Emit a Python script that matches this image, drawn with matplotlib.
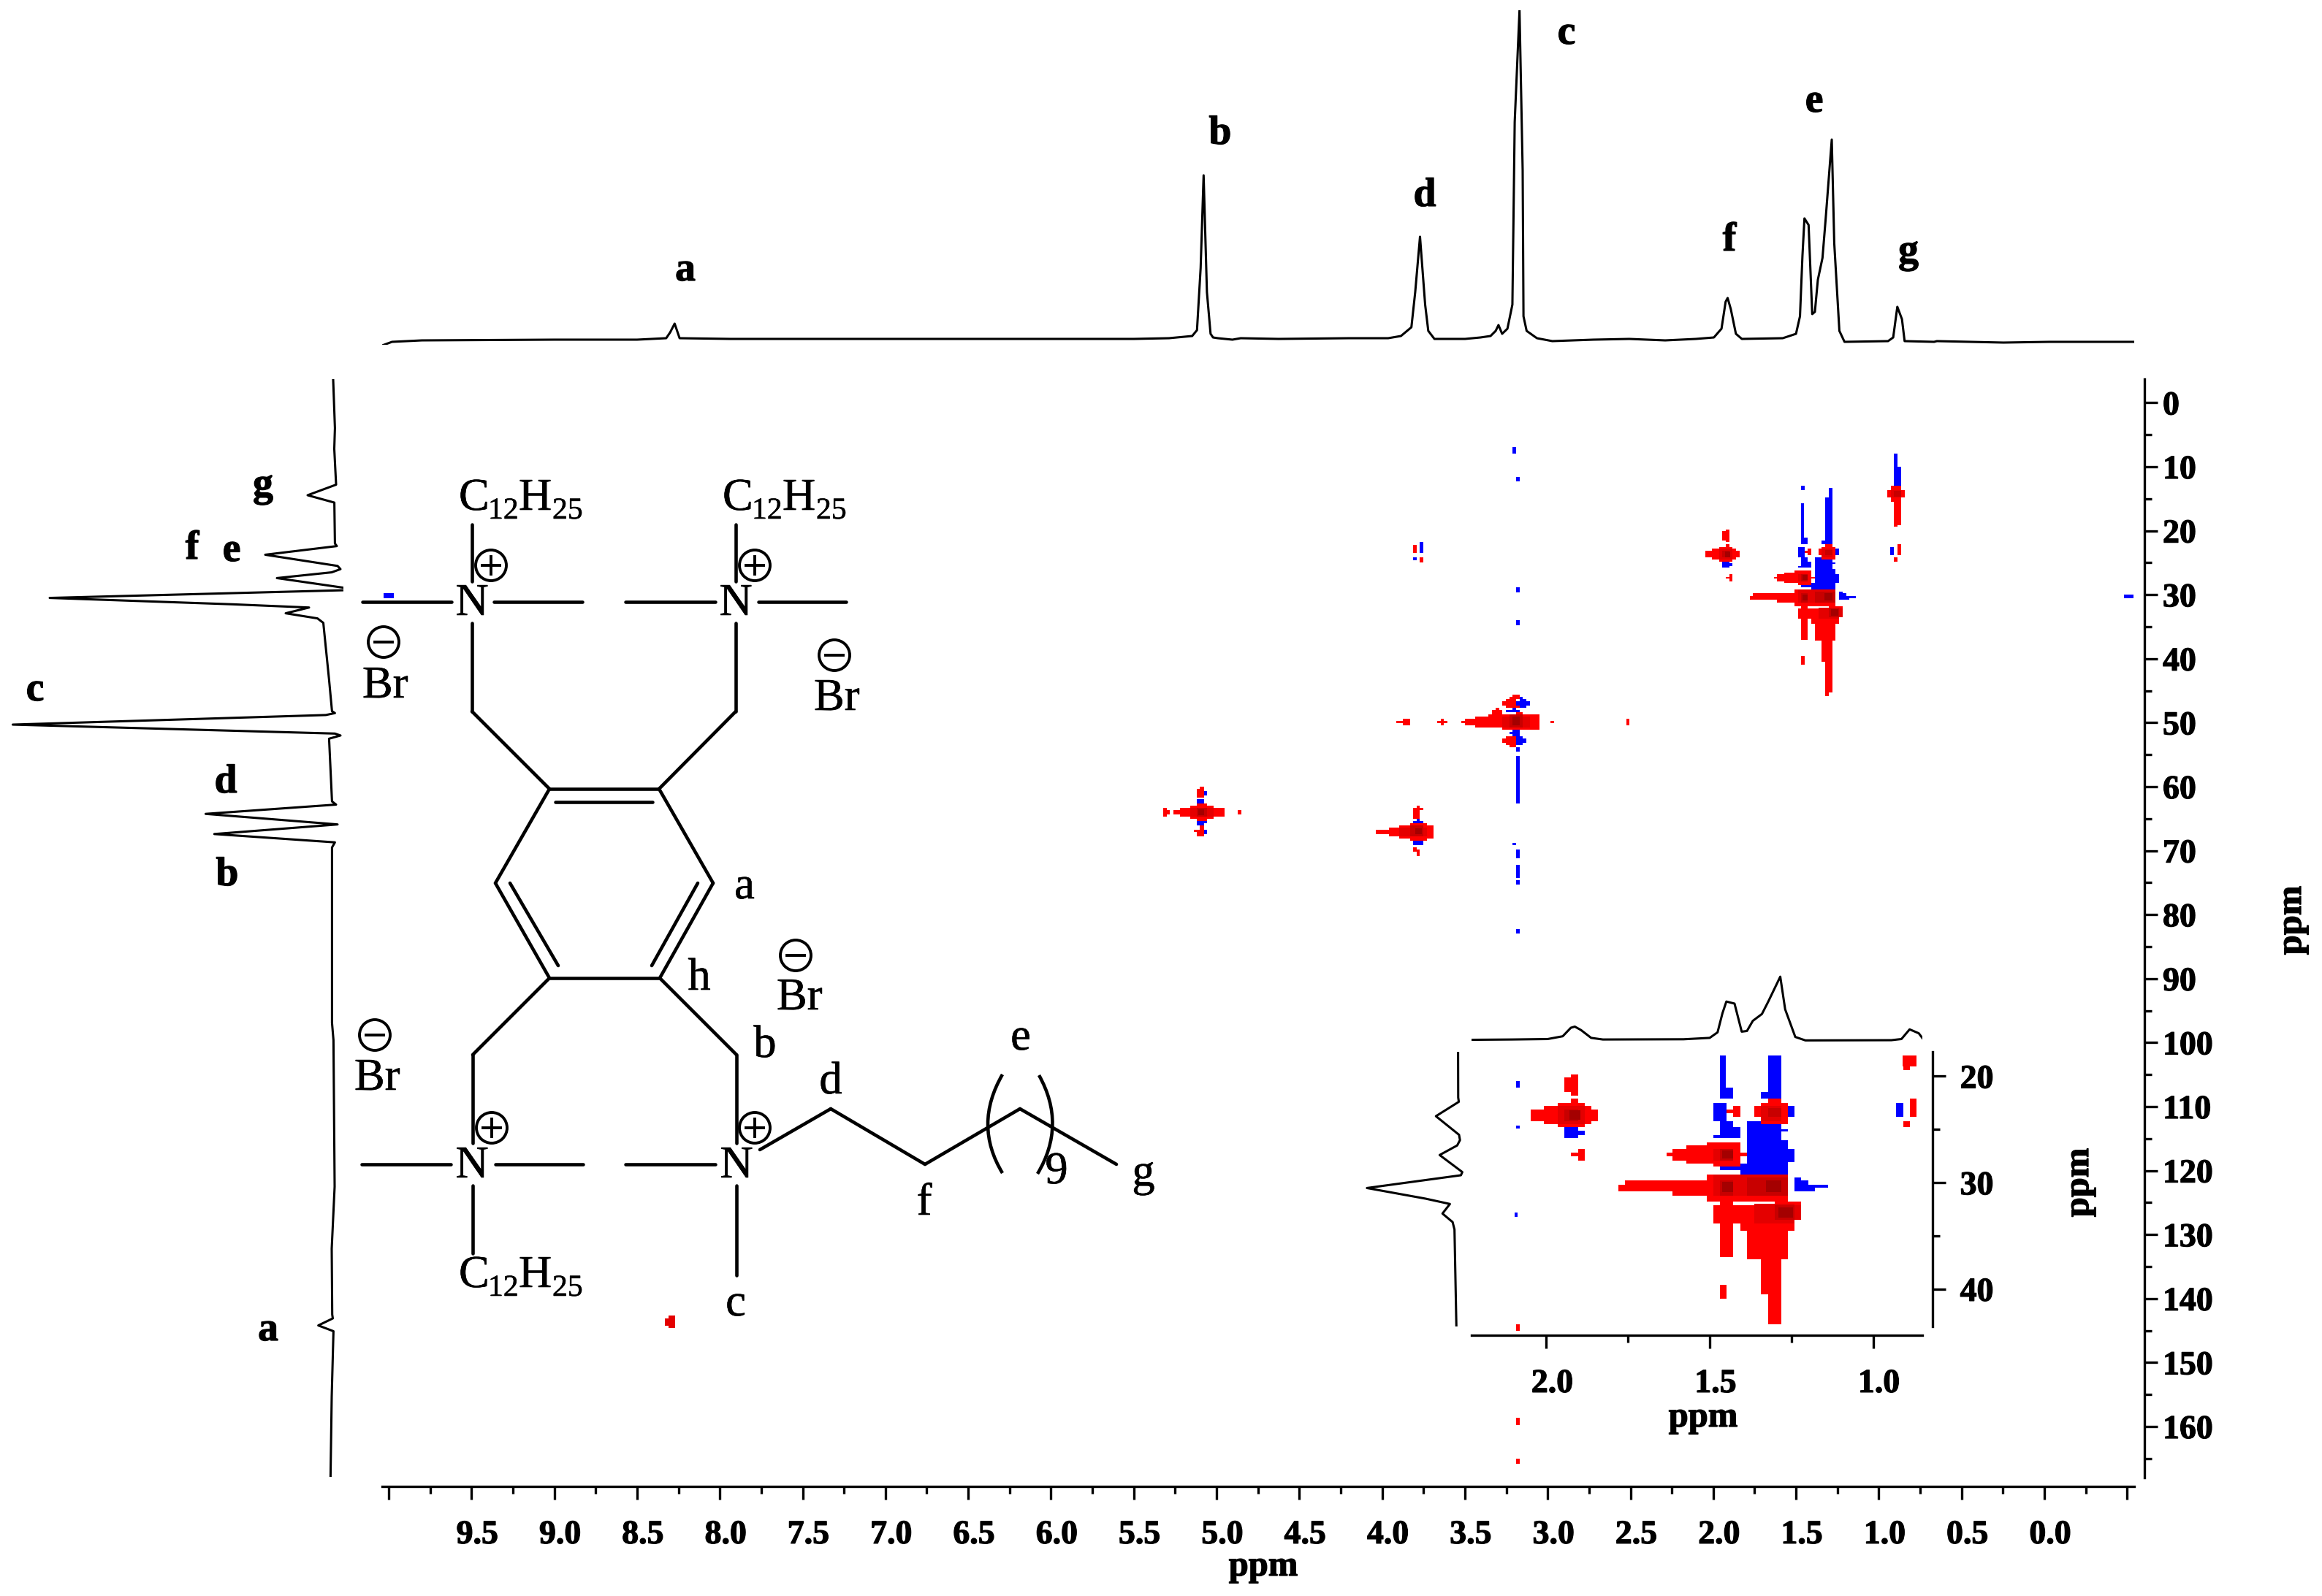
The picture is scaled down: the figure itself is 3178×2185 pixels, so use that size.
import matplotlib
matplotlib.use("Agg")
import matplotlib.pyplot as plt
import matplotlib.patheffects as pe
from matplotlib.patches import Rectangle, Circle, PathPatch
from matplotlib.path import Path
from matplotlib.transforms import ScaledTranslation
from matplotlib.ticker import FixedLocator, FixedFormatter

plt.rcParams['font.family'] = ['Liberation Serif', 'DejaVu Serif']

W, H = 3178, 2185

# --- 1D projections (ppm, intensity) ---
top_ppm = [10.04, 9.98, 9.8, 9.0, 8.5, 8.324, 8.30, 8.273, 8.255, 8.243, 7.935, 7.0, 6.0, 5.5, 5.287, 5.147, 5.118,
           5.096, 5.078, 5.058, 5.036, 5.021, 4.992, 4.904, 4.854, 4.625, 4.2, 3.963, 3.886, 3.823, 3.80, 3.771,
           3.740, 3.721, 3.684, 3.499, 3.406,
           3.345, 3.314, 3.297, 3.275, 3.243, 3.213, 3.199, 3.170, 3.151, 3.146, 3.127, 3.065, 2.972, 2.724, 2.507,
           2.29, 2.105, 1.996, 1.95, 1.925, 1.913, 1.894, 1.863, 1.827, 1.58, 1.50, 1.476, 1.461, 1.449, 1.424, 1.402,
           1.386, 1.368, 1.34, 1.321, 1.284, 1.269, 1.238, 1.207, 0.944, 0.913, 0.888, 0.860, 0.844, 0.666, 0.649,
           0.247, -0.03, -0.543]
top_int = [-3, 2, 4, 5, 5, 7, 15, 27, 15, 7, 6, 6, 6, 6, 7, 10, 18,
           103, 230, 70, 13, 8, 7, 5, 7, 6, 7, 7, 10, 22, 70, 146,
           53, 17, 6, 6, 8,
           10, 17, 25, 13, 20, 53, 303, 456, 237, 37, 17, 7, 3, 5, 6,
           4, 6, 8, 20, 57, 62, 47, 13, 6, 7, 13, 37, 120, 171, 162, 40,
           43, 87, 117, 170, 279, 137, 17, 2, 3, 8, 50, 33, 3, 2, 3,
           1, 2, 2]

left_c13 = [-3.6, 3.96, 7.2, 12.8, 14.45, 15.6, 22.0, 22.4, 23.75, 25.5, 26.0, 26.5, 27.4, 29.0, 29.3, 30.5, 31.5,
            32.0, 32.9, 33.7, 34.4, 43.3, 48.2, 48.5, 48.8, 50.3, 51.7, 52.0, 52.5, 62.3, 62.8, 64.25, 65.9, 67.4,
            68.7, 69.5, 96.9, 99.6, 122.5, 132.2, 142.5, 143.1, 144.2, 145.1, 155.3, 167.7]
left_int = [0, -2.4, -1.5, -4, 35, -1.6, -2.4, -5, 93, -6, -10, 2, 77, -20, -14, 388, 137,
            33, 65, 21.5, 13.5, 5.6, 1.6, -2.4, 10, 438.6, -2.4, -10, 5.6, 1.6, -4, 174.6, -6, 162.7,
            -2.4, 1.6, 1.6, -0.4, -2, 2, 1.3, 0.5, 20.4, -0.4, 2, 3.6]

# --- cross peaks (ppm high, ppm low, 13C low, 13C high) ---
blue_alkyl = [
    (1.468, 1.448, 13.0, 13.7), (1.468, 1.450, 15.7, 21.8), (1.468, 1.428, 21.1, 22.1), (1.488, 1.448, 22.5, 24.2),
    (1.468, 1.428, 24.2, 25.5), (1.488, 1.407, 25.5, 25.8), (1.448, 1.407, 24.8, 25.8), (1.468, 1.407, 28.5, 28.8),
    (1.302, 1.281, 13.3, 14.8), (1.322, 1.281, 14.8, 22.1), (1.344, 1.281, 21.5, 22.1), (1.260, 1.240, 22.8, 23.8),
    (1.385, 1.281, 24.2, 29.2), (1.281, 1.260, 25.0, 25.2), (1.281, 1.260, 26.0, 29.2), (1.260, 1.240, 26.8, 28.1),
    (1.407, 1.260, 28.2, 29.2), (1.240, 1.220, 29.5, 30.8), (1.220, 1.198, 29.8, 30.8), (1.198, 1.178, 30.2, 30.8),
    (1.178, 1.137, 30.2, 30.5), (1.944, 1.903, 24.8, 25.8), (1.903, 1.883, 25.1, 25.5), (0.929, 0.907, 22.5, 23.8),
    (0.910, 0.887, 7.9, 9.95), (0.910, 0.866, 9.95, 13.2),
]
red0_alkyl = [
    (1.944, 1.903, 20.1, 21.5), (1.924, 1.903, 19.8, 21.8), (1.924, 1.903, 22.1, 24.8), (2.007, 1.862, 22.8, 24.5),
    (1.966, 1.883, 22.5, 24.8), (2.049, 1.842, 23.1, 24.2), (1.903, 1.883, 26.8, 27.9), (1.924, 1.903, 27.2, 27.5),
    (0.950, 0.845, 13.6, 14.85), (0.928, 0.866, 13.0, 15.5), (0.910, 0.866, 15.5, 19.1), (0.907, 0.887, 19.1, 19.4),
    (0.887, 0.866, 22.1, 23.8), (0.907, 0.887, 24.2, 24.8), (1.448, 1.428, 23.1, 23.5), (1.428, 1.407, 22.8, 23.8),
    (1.364, 1.260, 22.8, 23.8), (1.344, 1.260, 22.5, 24.5), (1.322, 1.281, 22.1, 24.5),
    (1.633, 1.613, 27.2, 27.5), (1.613, 1.407, 26.8, 27.9), (1.572, 1.407, 26.5, 28.2), (1.509, 1.407, 26.2, 27.9),
    (1.488, 1.407, 26.2, 28.5), (1.407, 1.385, 27.2, 27.5),
    (1.779, 1.260, 30.2, 30.8), (1.759, 1.260, 29.8, 30.8), (1.613, 1.260, 29.8, 31.2), (1.509, 1.260, 29.2, 31.8),
    (1.488, 1.407, 32.1, 33.8), (1.407, 1.240, 32.1, 34.5), (1.302, 1.220, 31.8, 33.5),
    (1.468, 1.428, 31.8, 37.0), (1.385, 1.260, 32.1, 37.2), (1.344, 1.281, 37.2, 40.5), (1.322, 1.281, 40.5, 45.3),
    (1.322, 1.302, 45.3, 45.9), (1.468, 1.448, 39.6, 40.9),
]
red1_alkyl = [(1.966, 1.883, 22.8, 24.5), (1.488, 1.428, 26.8, 27.9), (1.488, 1.260, 29.2, 31.2),
              (1.364, 1.240, 32.0, 33.8), (1.302, 1.220, 32.1, 33.5), (1.344, 1.281, 22.8, 24.2),
              (0.928, 0.866, 13.6, 14.85)]
red2_alkyl = [(1.944, 1.903, 23.1, 24.2), (1.468, 1.428, 26.8, 27.9), (1.468, 1.428, 29.8, 31.2),
              (1.385, 1.260, 29.5, 31.2), (1.302, 1.240, 32.1, 33.5), (1.322, 1.281, 23.0, 23.8),
              (0.910, 0.866, 13.8, 14.7)]
red3_alkyl = [(1.930, 1.897, 23.2, 24.1), (1.462, 1.428, 26.95, 27.7), (1.462, 1.428, 29.95, 30.9),
              (1.328, 1.281, 29.75, 30.9), (1.290, 1.246, 32.3, 33.3)]

blue_main = [
    (5.120, 5.077, 61.97, 62.62), (5.120, 5.057, 65.36, 65.7), (5.120, 5.077, 65.7, 66.05),
    (5.077, 5.057, 60.64, 61.33), (5.077, 5.057, 66.73, 67.42),
    (3.812, 3.751, 65.36, 65.7), (3.791, 3.771, 65.06, 65.36), (3.812, 3.751, 68.44, 69.13),
    (3.251, 3.170, 48.05, 48.39), (3.211, 3.190, 47.7, 48.05), (3.190, 3.107, 46.64, 47.32), (3.170, 3.127, 46.34, 47.67),
    (3.170, 3.150, 45.99, 47.67), (3.211, 3.170, 51.09, 52.12), (3.231, 3.211, 51.43, 51.78), (3.190, 3.127, 52.46, 53.15),
    (3.190, 3.150, 52.12, 53.49), (3.190, 3.170, 53.83, 54.52), (3.190, 3.170, 55.2, 62.62), (3.211, 3.190, 68.78, 69.13),
    (3.190, 3.170, 69.81, 71.18), (3.190, 3.170, 72.21, 74.23), (3.190, 3.170, 74.57, 75.25),
    (3.211, 3.190, 6.9, 7.9), (3.190, 3.169, 11.6, 12.3), (3.190, 3.170, 28.8, 29.6), (3.190, 3.170, 34.0, 34.8),
    (3.190, 3.170, 82.3, 83.0), (3.190, 3.170, 106.0, 107.0), (3.190, 3.170, 113.0, 113.4), (3.200, 3.180, 126.6, 127.2),
    (-0.48, -0.54, 30.0, 30.6), (10.03, 9.97, 29.8, 30.6),
    (3.771, 3.749, 21.8, 23.5), (3.813, 3.790, 24.2, 24.6),
]
red0_main = [
    (5.262, 4.951, 63.69, 64.33), (5.221, 4.951, 63.34, 64.68), (5.161, 5.016, 63.0, 65.06), (5.120, 5.057, 62.62, 65.36),
    (5.323, 5.302, 63.34, 64.68), (5.302, 5.282, 63.69, 64.33), (4.872, 4.850, 63.69, 64.33), (5.100, 5.077, 59.96, 60.34),
    (5.120, 5.077, 60.34, 61.67), (5.138, 5.077, 66.73, 67.07), (5.120, 5.077, 67.07, 67.76), (5.100, 5.077, 66.05, 66.73),
    (4.039, 3.688, 66.73, 67.42), (3.958, 3.688, 66.39, 67.76), (3.895, 3.688, 66.05, 68.1), (3.832, 3.728, 65.7, 68.44),
    (3.812, 3.771, 63.31, 65.06), (3.791, 3.751, 63.31, 63.65), (3.791, 3.771, 63.0, 63.31), (3.812, 3.791, 69.47, 70.16),
    (3.791, 3.771, 69.81, 70.84),
    (3.521, 3.048, 49.76, 50.06), (3.499, 3.048, 49.42, 50.37), (3.438, 3.048, 49.07, 50.75), (3.357, 3.274, 48.73, 50.75),
    (3.274, 3.048, 48.73, 51.09), (3.337, 3.274, 48.05, 49.07), (3.314, 3.294, 47.7, 48.05), (3.190, 3.150, 48.39, 48.73),
    (3.211, 3.170, 45.65, 45.99), (3.231, 3.170, 45.99, 46.34), (3.251, 3.190, 46.34, 46.64), (3.274, 3.190, 46.64, 47.32),
    (3.251, 3.170, 47.32, 47.67), (3.274, 3.190, 52.46, 53.15), (3.251, 3.190, 52.12, 53.49), (3.231, 3.190, 53.49, 53.83),
    (3.915, 3.832, 49.76, 50.06), (3.875, 3.832, 49.42, 50.37), (3.668, 3.607, 49.76, 50.06), (3.647, 3.627, 49.42, 50.37),
    (2.983, 2.963, 49.76, 50.06), (2.526, 2.506, 49.42, 50.44),
    (3.190, 3.170, 144.0, 145.0), (3.190, 3.170, 158.6, 159.8), (3.190, 3.170, 165.0, 165.8),
    (3.813, 3.790, 22.2, 23.5), (3.771, 3.749, 24.2, 25.0),
]
red1_main = [(5.161, 5.016, 63.34, 64.68), (3.895, 3.728, 66.39, 67.76), (3.274, 3.107, 49.07, 50.75),
             (8.33, 8.31, 143.1, 144.3), (8.31, 8.27, 142.7, 144.6)]
red2_main = [(5.120, 5.057, 63.34, 64.68), (3.832, 3.751, 66.05, 67.76), (3.231, 3.150, 48.73, 50.75)]
red3_main = [(5.110, 5.077, 63.5, 64.4), (3.80, 3.76, 66.5, 67.4), (3.211, 3.170, 49.07, 50.37)]

x_major = [10.0 - 0.5 * i for i in range(22)]
x_labels = ['' if i == 0 or v < 0 else f'{v:.1f}' for i, v in enumerate(x_major)]
x_minor = [9.75 - 0.5 * i for i in range(21)]
y_major = list(range(0, 170, 10))
y_minor = list(range(5, 170, 10))
inset_xmajor = [2.0, 1.5, 1.0]
inset_xminor = [1.75, 1.25]
inset_ymajor = [20, 30, 40]
inset_yminor = [25, 35]

RED_LEVELS = ['#ff0000', '#e40000', '#c80000', '#a40000']
BLUE = '#0000ff'
HEAVY = [pe.withStroke(linewidth=0.9, foreground='black')]
LIGHT = [pe.withStroke(linewidth=0.4, foreground='black')]


def px_axes(fig, l, t, r, b):
    ax = fig.add_axes([l / W, 1 - b / H, (r - l) / W, (b - t) / H])
    ax.patch.set_alpha(0)
    return ax


def draw_blocks(ax, blocks, colour, clip=None):
    for a, b, c0, c1 in blocks:
        rect = Rectangle((b, c0), a - b, c1 - c0, facecolor=colour, edgecolor='none', antialiased=False)
        ax.add_patch(rect)
        if clip is not None:
            rect.set_clip_path(clip)


fig = plt.figure(figsize=(W / 100, H / 100), dpi=100, facecolor='white')
LW = 2.4
TR = 2.2
FS_TICK = 33

# ------------------- main 2D axes -------------------
ppm_at = lambda px: (2798 - px) / 226.6
c_at = lambda py: (py - 551.4) / 8.76
ax = px_axes(fig, 523, 519, 2921, 2023)
ax.set_xlim(ppm_at(523), ppm_at(2921))
ax.set_ylim(c_at(2023), c_at(519))
for s in ('top', 'left'):
    ax.spines[s].set_visible(False)
for s, off in (('bottom', 12), ('right', 14)):
    ax.spines[s].set_position(('outward', off * 0.72))
    ax.spines[s].set_linewidth(LW)
draw_blocks(ax, blue_alkyl + blue_main, BLUE)
for i, (lst_a, lst_m) in enumerate(((red0_alkyl, red0_main), (red1_alkyl, red1_main),
                                     (red2_alkyl, red2_main), (red3_alkyl, red3_main))):
    draw_blocks(ax, lst_a + lst_m, RED_LEVELS[i])
ax.yaxis.tick_right()
ax.xaxis.set_major_locator(FixedLocator(x_major))
ax.xaxis.set_major_formatter(FixedFormatter(x_labels))
ax.xaxis.set_minor_locator(FixedLocator(x_minor))
ax.yaxis.set_major_locator(FixedLocator(y_major))
ax.yaxis.set_minor_locator(FixedLocator(y_minor))
ax.tick_params(axis='x', which='major', length=13, width=LW, pad=20, labelsize=FS_TICK)
ax.tick_params(axis='x', which='minor', length=7.2, width=LW)
ax.tick_params(axis='y', which='major', length=13, width=LW, pad=5, labelsize=FS_TICK)
ax.tick_params(axis='y', which='minor', length=7.2, width=LW)
for lbl in ax.get_xticklabels() + ax.get_yticklabels():
    lbl.set_fontweight('bold')
    lbl.set_path_effects(HEAVY)
for lbl in ax.get_xticklabels():
    lbl.set_transform(lbl.get_transform() + ScaledTranslation(8 / 100, 0, fig.dpi_scale_trans))

# ------------------- top & left projections -------------------
ax_top = px_axes(fig, 523, 14, 2921, 472)
ax_top.set_xlim(ppm_at(523), ppm_at(2921))
ax_top.set_ylim(-2, 456)
ax_top.plot(top_ppm, top_int, color='black', lw=TR, solid_joinstyle='round')
ax_top.axis('off')

ax_left = px_axes(fig, 10, 519, 470, 2023)
ax_left.set_ylim(c_at(2023), c_at(519))
ax_left.set_xlim(446, -14)
ax_left.plot(left_int, left_c13, color='black', lw=TR)
ax_left.axis('off')

# ------------------- inset -------------------
ix = lambda zx: 1950 + zx / 1.568
iy = lambda zy: 1300 + zy / 2.306
ippm = lambda zx: 2.0 - (zx - 261) / 701
ic = lambda zy: 20 + (zy - 400) / 33.6
ins = px_axes(fig, ix(100), iy(322), ix(1068), iy(1190))
ins.set_xlim(ippm(100), ippm(1068))
ins.set_ylim(ic(1190), ic(322))
for s in ('top', 'left'):
    ins.spines[s].set_visible(False)
for s, off in (('bottom', 12), ('right', 14)):
    ins.spines[s].set_position(('outward', off * 0.72))
    ins.spines[s].set_linewidth(LW)
clip = Rectangle((ippm(1068), ic(334)), ippm(100) - ippm(1068), ic(1182) - ic(334), transform=ins.transData)
draw_blocks(ins, blue_alkyl, BLUE, clip)
for i, lst in enumerate((red0_alkyl, red1_alkyl, red2_alkyl, red3_alkyl)):
    draw_blocks(ins, lst, RED_LEVELS[i], clip)
ins.yaxis.tick_right()
ins.xaxis.set_major_locator(FixedLocator(inset_xmajor))
ins.xaxis.set_minor_locator(FixedLocator(inset_xminor))
ins.xaxis.set_major_formatter(FixedFormatter([f'{v:.1f}' for v in inset_xmajor]))
ins.yaxis.set_major_locator(FixedLocator(inset_ymajor))
ins.yaxis.set_minor_locator(FixedLocator(inset_yminor))
ins.yaxis.set_major_formatter(FixedFormatter([str(v) for v in inset_ymajor]))
ins.tick_params(axis='x', which='major', length=13, width=LW, pad=20, labelsize=FS_TICK)
ins.tick_params(axis='x', which='minor', length=7.2, width=LW)
ins.tick_params(axis='y', which='major', length=13, width=LW, pad=14, labelsize=FS_TICK)
ins.tick_params(axis='y', which='minor', length=7.2, width=LW)
for lbl in ins.get_xticklabels() + ins.get_yticklabels():
    lbl.set_fontweight('bold')
    lbl.set_path_effects(HEAVY)
for lbl in ins.get_xticklabels():
    lbl.set_transform(lbl.get_transform() + ScaledTranslation(8 / 100, 0, fig.dpi_scale_trans))

ins_top = px_axes(fig, ix(100), 1320, ix(1068), 1430)
ins_top.set_xlim(ippm(100), ippm(1068))
ins_top.set_ylim(-5 / 0.315, 105 / 0.315)
ins_top.plot(top_ppm, top_int, color='black', lw=TR)
ins_top.axis('off')

ins_left = px_axes(fig, 1860, iy(322), 2005, iy(1190))
ins_left.set_ylim(ic(1190), ic(322))
ins_left.set_xlim(135 / 0.32, -10 / 0.32)
ins_left.plot(left_int, left_c13, color='black', lw=TR)
ins_left.axis('off')

# ------------------- overlay: text & molecular drawing -------------------
ov = fig.add_axes([0, 0, 1, 1])
ov.set_xlim(0, W)
ov.set_ylim(H, 0)
ov.axis('off')
ov.patch.set_alpha(0)

bold_labels = [('a', 938, 370), ('b', 1670, 183), ('d', 1950, 268), ('c', 2144, 46), ('f', 2367, 329), ('e', 2483, 139),
               ('g', 2612, 345), ('g', 360, 665), ('f', 263, 751), ('e', 317, 754), ('c', 48, 945), ('d', 309, 1071),
               ('b', 311, 1198), ('a', 367, 1821)]
for s, x, y in bold_labels:
    ov.text(x, y, s, fontsize=40, fontweight='bold', ha='center', va='center', path_effects=HEAVY)
ov.text(1729, 2145, 'ppm', fontsize=35, fontweight='bold', ha='center', va='center', path_effects=HEAVY)
ov.text(3137, 1260, 'ppm', fontsize=35, fontweight='bold', ha='center', va='center', rotation=90, path_effects=HEAVY)
ov.text(2331, 1941, 'ppm', fontsize=35, fontweight='bold', ha='center', va='center', path_effects=HEAVY)
ov.text(2846, 1619, 'ppm', fontsize=35, fontweight='bold', ha='center', va='center', rotation=90, path_effects=HEAVY)

BL = 3.3
bonds = [
    ((496, 824), (618, 824)), ((676, 824), (797, 824)), ((856, 824), (979, 824)), ((1038, 824), (1158, 824)),
    ((646, 718), (646, 796)), ((1007, 718), (1007, 796)),
    ((646, 853), (646, 974)), ((646, 974), (752, 1080)), ((1007, 853), (1007, 974)), ((1007, 974), (902, 1080)),
    ((752, 1080), (902, 1080)), ((902, 1080), (976, 1209)), ((976, 1209), (903, 1339)), ((903, 1339), (752, 1339)),
    ((752, 1339), (678, 1209)), ((678, 1209), (752, 1080)),
    ((760, 1098), (893, 1098)), ((698, 1209), (764, 1322)), ((955, 1209), (892, 1322)),
    ((752, 1339), (647, 1444)), ((647, 1444), (647, 1565)), ((903, 1339), (1008, 1444)), ((1008, 1444), (1008, 1565)),
    ((495, 1594), (617, 1594)), ((678, 1594), (798, 1594)), ((856, 1594), (979, 1594)),
    ((647, 1623), (647, 1716)), ((1008, 1623), (1008, 1746)),
    ((1040, 1574), (1137, 1518)), ((1137, 1518), (1266, 1594)), ((1266, 1594), (1396, 1518)), ((1396, 1518), (1528, 1594)),
]
for (x0, y0), (x1, y1) in bonds:
    ov.plot([x0, x1], [y0, y1], color='black', lw=BL, solid_capstyle='round')
for pts in (((1372, 1471), (1332, 1540), (1372, 1606)), ((1422, 1472), (1460, 1540), (1420, 1607))):
    ov.add_patch(PathPatch(Path(pts, [Path.MOVETO, Path.CURVE3, Path.CURVE3]), fill=False, lw=BL, edgecolor='black'))

FS_ST = 45
FS_SUB = 30
for s, x, y in (('N', 646, 827), ('N', 1007, 827), ('N', 646, 1597), ('N', 1008, 1597)):
    ov.text(x, y, s, fontsize=FS_ST, ha='center', va='center', path_effects=LIGHT)
for x0, base in ((628, 698), (989, 698), (628, 1762)):
    ov.text(x0, base, 'C', fontsize=FS_ST, ha='left', va='baseline', path_effects=LIGHT)
    ov.text(x0 + 40, base + 12, '12', fontsize=FS_SUB, ha='left', va='baseline', path_effects=LIGHT)
    ov.text(x0 + 82, base, 'H', fontsize=FS_ST, ha='left', va='baseline', path_effects=LIGHT)
    ov.text(x0 + 128, base + 12, '25', fontsize=FS_SUB, ha='left', va='baseline', path_effects=LIGHT)
for x0, base in ((496, 955), (1114, 972), (1063, 1382), (485, 1492)):
    ov.text(x0, base, 'Br', fontsize=FS_ST, ha='left', va='baseline', path_effects=LIGHT)
for s, x, y in (('a', 1019, 1215), ('h', 957, 1340), ('b', 1047, 1432), ('e', 1397, 1422), ('d', 1137, 1482),
                ('f', 1265, 1648), ('g', 1565, 1608), ('c', 1007, 1786), ('9', 1446, 1605)):
    ov.text(x, y, s, fontsize=FS_ST, ha='center', va='center', path_effects=LIGHT)
for x, y in ((672, 774), (1033, 774), (673, 1544), (1033, 1544)):
    ov.add_patch(Circle((x, y), 21, fill=False, lw=2.8, edgecolor='black'))
    ov.plot([x - 12, x + 12], [y, y], color='black', lw=2.8)
    ov.plot([x, x], [y - 12, y + 12], color='black', lw=2.8)
for x, y in ((525, 879), (1142, 897), (1089, 1308), (513, 1417)):
    ov.add_patch(Circle((x, y), 21, fill=False, lw=2.8, edgecolor='black'))
    ov.plot([x - 12, x + 12], [y, y], color='black', lw=2.8)

fig.savefig('out.png', dpi=100, facecolor='white')
